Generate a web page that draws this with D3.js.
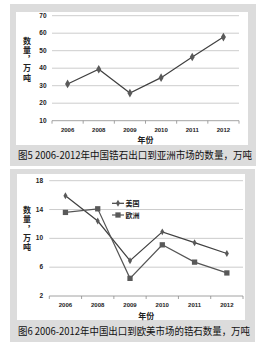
<!DOCTYPE html>
<html><head><meta charset="utf-8">
<script src="https://cdn.jsdelivr.net/npm/d3@7/dist/d3.min.js"></script>
<style>html,body{margin:0;padding:0;background:#fff;}svg{display:block;}</style>
</head><body>
<svg id="c" width="277" height="349"></svg>
<script>
const years = ["2006","2008","2009","2010","2011","2012"];
const asiaValues = [31, 39.4, 25.8, 34.6, 46.4, 57.8];
const usValues = [15.9, 12.4, 6.9, 10.9, 9.4, 7.9];
const euValues = [13.6, 14.1, 4.45, 9.1, 6.7, 5.2];
const ticks1 = [10, 20, 30, 40, 50, 60, 70];
const ticks2 = [2, 6, 10, 14, 18];
const seriesNames = ["美国", "欧洲"];
const caption1 = "图5 2006-2012年中国锆石出口到亚洲市场的数量，万吨";
const caption2 = "图6 2006-2012年中国出口到欧美市场的锆石数量，万吨";
const yTitle = "数量，万吨";
const xTitle = "年份";

const svg = d3.select("#c");
const GRAY = "#dcdcdc";
const CJK = "'Noto Sans CJK SC', sans-serif";

function panel(o) {
  svg.append("rect").attr("x", o.gx).attr("y", o.gy).attr("width", o.gw).attr("height", o.gh).attr("fill", GRAY);
  svg.append("rect").attr("x", o.wx).attr("y", o.wy).attr("width", o.ww).attr("height", o.wh).attr("fill", "#fff");
  svg.append("text").attr("x", o.capX).attr("y", o.capY).attr("font-family", CJK)
    .attr("font-size", 10).attr("fill", "#111").attr("textLength", o.capW).attr("lengthAdjust", "spacingAndGlyphs")
    .text(o.caption);
}

function chart(o) {
  const x = d3.scaleBand().domain(years).range([o.x0, o.x1]).padding(0);
  const y = d3.scaleLinear().domain(o.domain).range([o.y0, o.y1]);
  const g = svg.append("g");
  g.selectAll("line.grid").data(o.ticks.slice(1)).join("line")
    .attr("x1", o.x0).attr("x2", o.x1).attr("y1", d => y(d)).attr("y2", d => y(d))
    .attr("stroke", "#bfbfbf").attr("stroke-width", 0.8);
  g.append("line").attr("x1", o.x0).attr("x2", o.x1).attr("y1", y(o.domain[0])).attr("y2", y(o.domain[0]))
    .attr("stroke", "#8c8c8c").attr("stroke-width", 0.8);
  const bounds = years.map(d => x(d)).concat([o.x1]);
  g.selectAll("line.tk").data(bounds).join("line")
    .attr("x1", d => d).attr("x2", d => d).attr("y1", y(o.domain[0])).attr("y2", y(o.domain[0]) + 3)
    .attr("stroke", "#8c8c8c").attr("stroke-width", 0.8);
  g.selectAll("text.yl").data(o.ticks).join("text")
    .attr("x", o.labelX).attr("y", d => y(d) + 2).attr("text-anchor", "end")
    .attr("font-family", "'Liberation Sans', Arial, sans-serif").attr("font-weight", "bold")
    .attr("font-size", 6.5).attr("fill", "#222").text(d => d);
  g.selectAll("text.xl").data(years).join("text")
    .attr("x", d => x(d) + x.bandwidth() / 2).attr("y", o.xlabY).attr("text-anchor", "middle")
    .attr("font-family", "'Liberation Sans', Arial, sans-serif").attr("font-weight", "bold")
    .attr("font-size", 6).attr("fill", "#222").text(d => d);
  g.append("text").attr("x", (o.x0 + o.x1) / 2).attr("y", o.xTitleY).attr("text-anchor", "middle")
    .attr("font-family", CJK).attr("font-weight", "bold").attr("font-size", 8).attr("fill", "#222").text(xTitle);
  g.append("text").attr("x", 27).attr("y", o.yTitleY)
    .attr("font-family", CJK).attr("font-weight", "bold").attr("font-size", 8).attr("fill", "#222")
    .style("writing-mode", "vertical-rl").style("text-orientation", "upright")
    .attr("letter-spacing", 1.3).text(yTitle);
  return {x, y, g};
}

function drawSeries(c, vals, marker, ms, stroke) {
  const cx = (d, i) => c.x(years[i]) + c.x.bandwidth() / 2;
  const line = d3.line().x((d, i) => cx(d, i)).y(d => c.y(d));
  c.g.append("path").datum(vals).attr("d", line).attr("fill", "none")
    .attr("stroke", stroke).attr("stroke-width", 1.2);
  const sym = d3.symbol().type(marker === "square" ? d3.symbolSquare : d3.symbolDiamond).size(ms);
  c.g.selectAll(null).data(vals).join("path")
    .attr("d", sym).attr("transform", (d, i) => `translate(${cx(d, i)},${c.y(d)})`)
    .attr("fill", "#595959");
}

panel({gx: 10, gy: 4, gw: 246, gh: 162, wx: 16, wy: 12, ww: 232, wh: 133,
  capX: 18, capY: 159, capW: 234, caption: caption1});
const c1 = chart({x0: 52, x1: 239, y0: 120.7, y1: 15.7, domain: [10, 70], ticks: ticks1,
  labelX: 46.5, xlabY: 131.5, xTitleY: 143, yTitleY: 36.5});
drawSeries(c1, asiaValues, "diamond", 22, "#404040");

panel({gx: 10, gy: 169, gw: 245, gh: 173, wx: 17, wy: 174, ww: 228, wh: 146,
  capX: 18, capY: 335, capW: 232, caption: caption2});
const c2 = chart({x0: 49.3, x1: 243, y0: 296, y1: 180.7, domain: [2, 18], ticks: ticks2,
  labelX: 43, xlabY: 306.5, xTitleY: 318.5, yTitleY: 206});
drawSeries(c2, usValues, "diamond", 14, "#404040");
drawSeries(c2, euValues, "square", 28, "#555");

const legY = [203.3, 215];
seriesNames.forEach((n, i) => {
  const lg = c2.g.append("g");
  lg.append("line").attr("x1", 112).attr("x2", 124).attr("y1", legY[i]).attr("y2", legY[i])
    .attr("stroke", i ? "#555" : "#404040").attr("stroke-width", 1.2);
  lg.append("path").attr("d", d3.symbol().type(i ? d3.symbolSquare : d3.symbolDiamond).size(i ? 28 : 14))
    .attr("transform", `translate(118,${legY[i]})`).attr("fill", "#595959");
  lg.append("text").attr("x", 125.5).attr("y", legY[i] + 2.8).attr("font-family", CJK)
    .attr("font-weight", "bold").attr("font-size", 7).attr("fill", "#222").text(n);
});
</script>
</body></html>
